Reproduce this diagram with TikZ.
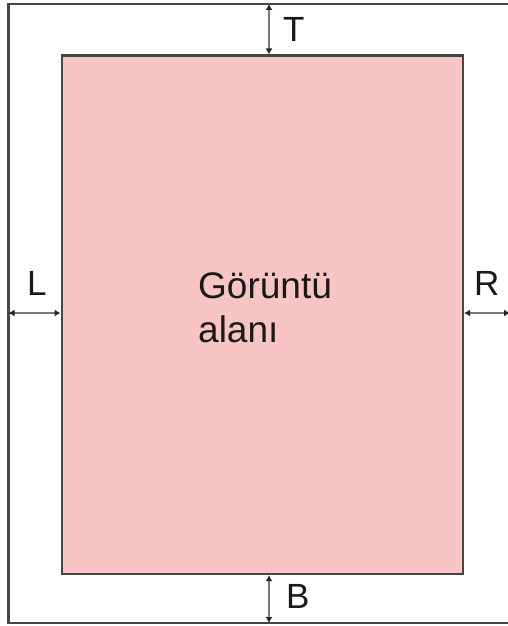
\documentclass[tikz,border=0pt]{standalone}
\usepackage{fontspec}
\setmainfont{Liberation Sans}
\usetikzlibrary{arrows.meta}
\definecolor{areapink}{RGB}{248,196,196}
\definecolor{edgegray}{RGB}{70,70,70}
\definecolor{dimgray}{RGB}{120,120,120}
\tikzset{
  lbl/.style={anchor=base west,inner sep=0pt,font=\fontsize{35}{44}\selectfont,text=black!90},
  dimarrow/.style={draw=dimgray,line width=1.3pt,{Latex[length=6pt,width=7pt,black!85]}-{Latex[length=6pt,width=7pt,black!85]}}
}
\begin{document}
\begin{tikzpicture}[x=1pt,y=-1pt]
\useasboundingbox (0,0) rectangle (508,626);
\clip (0,0) rectangle (508,626);
\fill[white] (0,0) rectangle (508,626);
\draw[edgegray,line width=2.6pt] (8.5,4) rectangle (520,623);
\node[draw=edgegray,fill=areapink,line width=2.6pt,minimum width=401pt,minimum height=518pt,inner sep=0pt,anchor=north west] (area) at (60.5,54.5) {};
\coordinate (tt) at (269,4);
\coordinate (bb) at (269,623);
\coordinate (ll) at (8.5,313);
\coordinate (rr) at (510,313);
\draw[dimarrow] (tt) -- (tt |- area.north);
\draw[dimarrow] (area.south -| bb) -- (bb);
\draw[dimarrow] (ll) -- (ll -| area.west);
\draw[dimarrow] (area.east |- rr) -- (rr);
\node[lbl] (T) at (283,42) {T};
\node[lbl] (B) at (286,608) {B};
\node[lbl] (L) at (27,295) {L};
\node[lbl] (R) at (474,295) {R};
\node[lbl,align=left,anchor=base west,font=\fontsize{37}{44}\selectfont] (txt) at (198,342) {Görüntü\\alanı};
\end{tikzpicture}
\end{document}
